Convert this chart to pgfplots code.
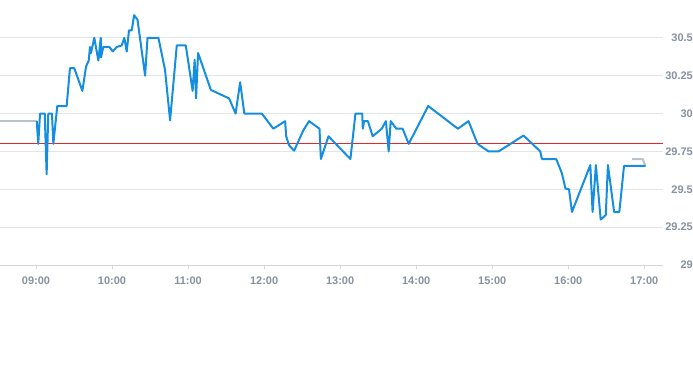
\documentclass[border=0pt]{standalone}
\usepackage{fontspec}
\setmainfont{Liberation Sans}
\usepackage{pgfplots}
\pgfplotsset{compat=1.18}
\definecolor{lineblue}{RGB}{22,142,224}
\definecolor{prevred}{RGB}{228,40,40}
\definecolor{greyline}{RGB}{184,194,204}
\definecolor{gridc}{RGB}{226,228,232}
\definecolor{axc}{RGB}{208,214,222}
\definecolor{labc}{RGB}{135,145,160}
\begin{document}
\begin{tikzpicture}
\useasboundingbox (0,0) rectangle (693pt,365pt);
\begin{axis}[
  at={(0pt,100pt)}, anchor=south west,
  scale only axis, width=663.3pt, height=265pt,
  xmin=511.6, xmax=1035, ymin=29, ymax=30.75,
  axis x line*=bottom, axis y line*=right,
  x axis line style={draw=axc, line width=0.8pt},
  y axis line style={draw=none},
  xtick={540,600,660,720,780,840,900,960,1020},
  xticklabels={09:00,10:00,11:00,12:00,13:00,14:00,15:00,16:00,17:00},
  ytick={29,29.25,29.5,29.75,30,30.25,30.5},
  yticklabels={29,29.25,29.5,29.75,30,30.25,30.5},
  ymajorgrids, major grid style={draw=gridc, line width=0.8pt},
  ytick style={draw=none},
  xtick style={draw=axc, line width=0.8pt},
  tick align=outside, major tick length=4pt,
  ticklabel style={font=\bfseries\fontsize{11}{13}\selectfont, text=labc},
  xticklabel style={yshift=-4pt},
  yticklabel style={anchor=east, xshift=25.5pt, inner sep=0pt, outer sep=0pt},
]
\addplot[draw=prevred, line width=1.1pt] coordinates {(511.6,29.8) (1035,29.8)};
\addplot[draw=greyline, line width=2pt] coordinates {(511.6,29.95) (540.6,29.95)};
\addplot[draw=greyline, line width=2pt] coordinates {(1010.3,29.70) (1018.7,29.70) (1020.8,29.655)};
\addplot[draw=lineblue, line width=2pt, line join=round] coordinates {
(540.6,29.95) (541.8,29.80) (543.2,30.00) (546.9,30.00) (548.4,29.60) (549.7,30.00)
(552.6,30.00) (553.7,29.80) (556.8,30.05) (564.2,30.05) (566.8,30.30) (570.2,30.30)
(576.6,30.15) (579.5,30.31) (581.6,30.35) (582.6,30.44) (583.4,30.40) (586.0,30.50)
(589.2,30.35) (591.1,30.50) (591.3,30.37) (593.1,30.44) (597.9,30.44) (600.6,30.41)
(603.7,30.44) (607.7,30.45) (609.7,30.50) (611.6,30.41) (613.4,30.55) (615.6,30.55)
(617.4,30.65) (620.1,30.62) (626.1,30.25) (628.0,30.50) (636.6,30.50) (641.8,30.29)
(645.8,29.955) (651.1,30.45) (658.2,30.45) (663.6,30.15) (665.2,30.355) (666.3,30.10)
(667.9,30.40) (678.0,30.156) (692.4,30.10) (697.5,30.0) (701.1,30.207) (704.4,30.0)
(718.2,30.0) (727.3,29.90) (736.6,29.95) (737.4,29.85) (739.7,29.79) (743.7,29.755)
(751.0,29.89) (755.5,29.95) (763.7,29.90) (764.8,29.70) (770.8,29.85) (788.1,29.70)
(792.1,30.0) (797.4,30.0) (797.9,29.90) (798.9,29.95) (801.9,29.95) (805.7,29.85)
(812.8,29.90) (816.1,29.95) (818.3,29.75) (819.9,29.95) (824.4,29.90) (829.3,29.90)
(834.1,29.80) (849.5,30.05) (872.9,29.90) (881.3,29.95) (888.4,29.80) (897.1,29.75)
(905.0,29.75) (924.7,29.855) (937.9,29.75) (939.2,29.70) (950.5,29.70) (955.0,29.605)
(957.8,29.505) (960.6,29.50) (962.9,29.35) (977.4,29.66) (979.2,29.35) (981.8,29.66)
(985.6,29.30) (989.6,29.33) (991.3,29.66) (996.2,29.35) (1000.3,29.35) (1004.0,29.655)
(1021.1,29.655)
};
\end{axis}
\end{tikzpicture}
\end{document}
